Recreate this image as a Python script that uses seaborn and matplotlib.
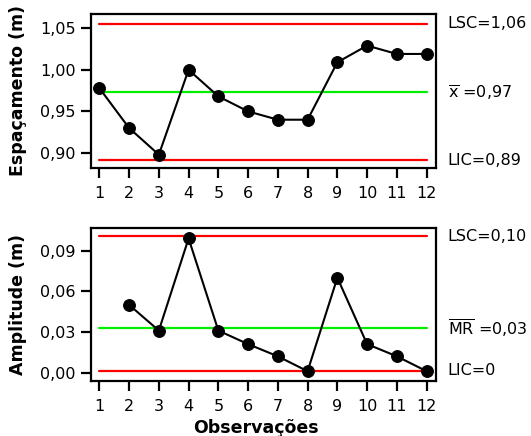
import numpy as np
import pandas as pd
import seaborn as sns
from matplotlib import pyplot as plt
from matplotlib import transforms

obs = list(range(1, 13))
espacamento = [0.978, 0.930, 0.898, 1.000, 0.968, 0.950, 0.940, 0.940, 1.009, 1.029, 1.019, 1.019]
obs_mr = list(range(2, 13))
amplitude = [0.050, 0.031, 0.099, 0.031, 0.021, 0.012, 0.001, 0.070, 0.021, 0.012, 0.001]

x_limits = [1.055, 0.973, 0.891]
x_labels = ['LSC=1,06', r'$\overline{\mathrm{x}}$ =0,97', 'LIC=0,89']
mr_limits = [0.1005, 0.033, 0.0012]
mr_labels = ['LSC=0,10', r'$\overline{\mathrm{M}}\overline{\mathrm{R}}$ =0,03', 'LIC=0']

sns.set_style('ticks')
plt.rcParams['font.family'] = ['DejaVu Sans']
plt.rcParams['font.size'] = 11.5
plt.rcParams['text.color'] = 'black'
plt.rcParams['axes.labelcolor'] = 'black'
plt.rcParams['xtick.color'] = 'black'
plt.rcParams['ytick.color'] = 'black'

fig = plt.figure(figsize=(5.31, 4.36), dpi=100)
ax1 = fig.add_axes([0.1714, 0.6147, 0.6488, 0.3532])
ax2 = fig.add_axes([0.1714, 0.1268, 0.6488, 0.3496])

df1 = pd.DataFrame({'obs': obs, 'val': espacamento})
df2 = pd.DataFrame({'obs': obs_mr, 'val': amplitude})


def draw(ax, df, limits, labels, ylim, yticks, yticklabels, ylabel):
    for val, col in zip(limits, ['#ff0000', '#00ee00', '#ff0000']):
        ax.plot([1, 12], [val, val], color=col, lw=1.6, zorder=1)
    sns.lineplot(data=df, x='obs', y='val', ax=ax, color='black', lw=1.5,
                 marker='o', markersize=8.5, markeredgecolor='black', zorder=3)
    ax.set_xlim(0.72, 12.3)
    ax.set_ylim(*ylim)
    ax.set_xticks(obs)
    ax.set_xticklabels([str(i) for i in obs])
    ax.set_yticks(yticks)
    ax.set_yticklabels(yticklabels)
    ax.tick_params(length=7, width=1.6, pad=4, labelsize=11.5, color='black',
                   labelcolor='black')
    ax.tick_params(axis='x', pad=6)
    for s in ax.spines.values():
        s.set_linewidth(1.6)
        s.set_color('black')
    ax.set_ylabel(ylabel, fontweight='bold', fontsize=12.5)
    ax.yaxis.set_label_coords(-0.185, 0.5)
    ax.set_xlabel('')
    trans = transforms.blended_transform_factory(ax.transAxes, ax.transData)
    for val, lab in zip(limits, labels):
        ax.text(1.035, val, lab, transform=trans, va='center', ha='left', fontsize=11.5)


draw(ax1, df1, x_limits, x_labels, (0.882, 1.067), [0.90, 0.95, 1.00, 1.05],
     ['0,90', '0,95', '1,00', '1,05'], 'Espaçamento (m)')
draw(ax2, df2, mr_limits, mr_labels, (-0.006, 0.1065), [0.00, 0.03, 0.06, 0.09],
     ['0,00', '0,03', '0,06', '0,09'], 'Amplitude (m)')
ax2.set_xlabel('Observações', fontweight='bold', fontsize=12.5)
ax2.xaxis.set_label_coords(0.48, -0.25)

fig.savefig('out.png', dpi=100)
